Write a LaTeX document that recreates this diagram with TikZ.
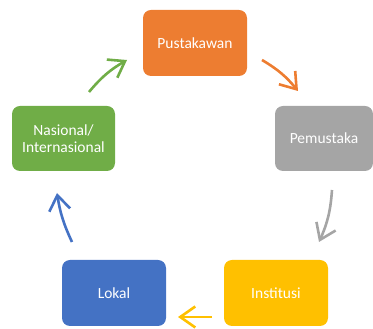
\documentclass[tikz,border=0pt]{standalone}
\usepackage{fontspec}
\setmainfont{Carlito}
\usetikzlibrary{arrows.meta}

\begin{document}
\begin{tikzpicture}[
    x=1pt, y=1pt,
    box/.style={rounded corners=8pt, minimum width=104pt, minimum height=66pt, text=white, align=center, font=\fontsize{15.5}{17}\selectfont},
    freccia/.style={line width=2.6pt, -{Straight Barb[length=15pt, width=21pt, line width=2.6pt]}}
    ]
    % colori
    \definecolor{colorArancio}{HTML}{ED7D31}
    \definecolor{colorGrigio}{HTML}{A5A5A5}
    \definecolor{colorGiallo}{HTML}{FFC000}
    \definecolor{colorBlu}{HTML}{4472C4}
    \definecolor{colorVerde}{HTML}{70AD47}

    \useasboundingbox (0,0) rectangle (373,329);

    % blocchi
    \node[box, fill=colorArancio] (pustakawan) at (195,286) {Pustakawan};
    \node[box, fill=colorGrigio, minimum width=98pt, minimum height=65pt] (pemustaka) at (324,190.5) {Pemustaka};
    \node[box, fill=colorGiallo] (institusi) at (276,36) {Institusi};
    \node[box, fill=colorBlu] (lokal) at (114,36) {Lokal};
    \node[box, fill=colorVerde, minimum width=103pt, minimum height=65pt] (nasional) at (63.5,190.5) {Nasional/\\Internasional};

    % estremi delle frecce
    \coordinate (verdeA) at (89,237);   \coordinate (verdeB) at (127,269);
    \coordinate (aranA) at (262,269);   \coordinate (aranB) at (298,238);
    \coordinate (grigA) at (332,139);   \coordinate (grigB) at (319,87);
    \coordinate (gialA) at (212,12);    \coordinate (gialB) at (178,12);
    \coordinate (bluA) at (72,87);      \coordinate (bluB) at (57,136);

    % frecce
    \draw[freccia, colorVerde] (verdeA) to[bend left=10] (verdeB);
    \draw[freccia, colorArancio] (aranA) to[bend left=10] (aranB);
    \draw[freccia, colorGrigio] (grigA) to[bend left=10] (grigB);
    \draw[freccia, colorGiallo] (gialA) -- (gialB);
    \draw[freccia, colorBlu] (bluA) to[bend left=8] (bluB);
\end{tikzpicture}
\end{document}
